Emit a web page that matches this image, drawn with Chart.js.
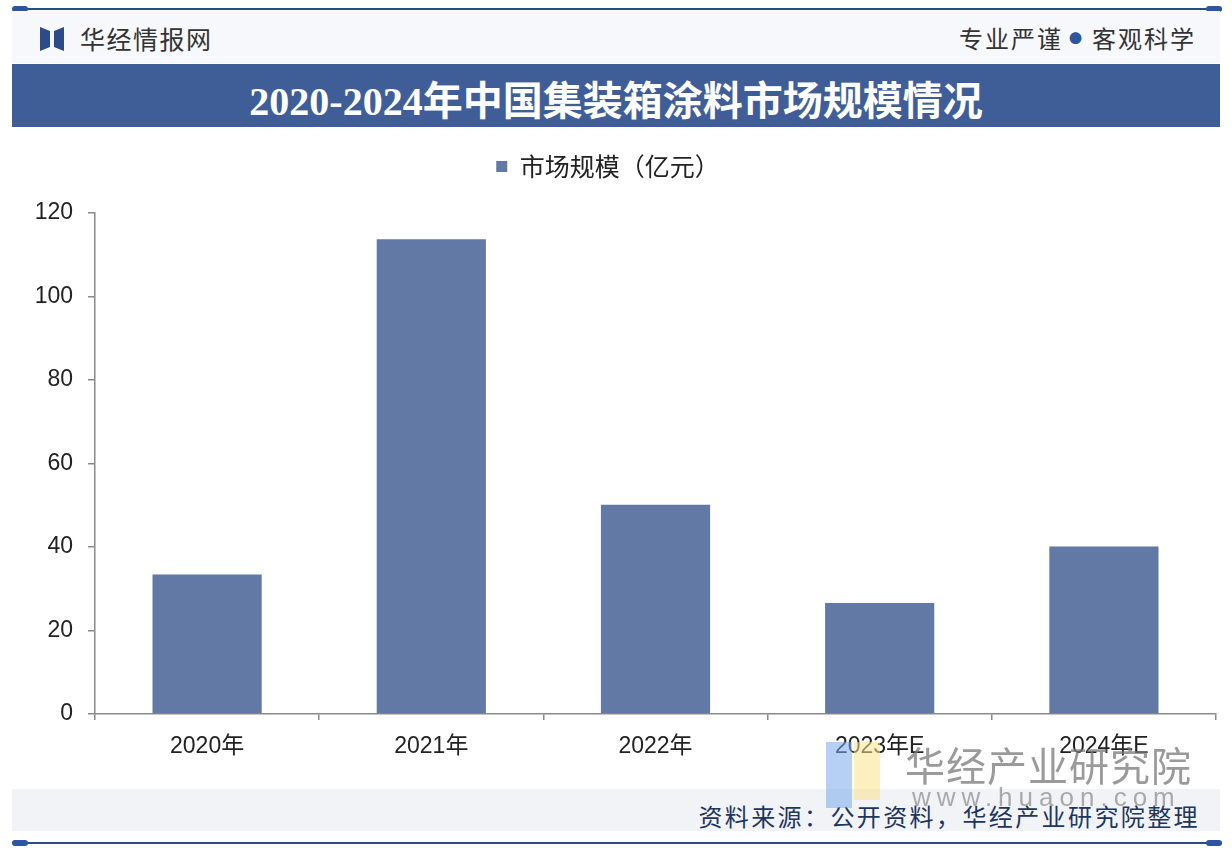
<!DOCTYPE html>
<html>
<head>
<meta charset="utf-8">
<script src="https://cdn.jsdelivr.net/npm/chart.js@4/dist/chart.umd.min.js"></script>
<style>
  html, body { margin:0; padding:0; background:#ffffff; }
  body { width:1232px; height:852px; position:relative; overflow:hidden; font-family:"Noto Sans CJK SC", sans-serif; }
  .hline { position:absolute; left:12px; width:1210px; height:2px; background:#2d4b7c; }
  .cap { position:absolute; width:16px; height:6px; border-radius:3px; background:#2d55a0; }
  #hdr { position:absolute; left:12px; top:11px; width:1208px; height:52px; background:#f7f8fb; }
  #brand { position:absolute; left:80px; top:20px; font-size:25px; color:#333; letter-spacing:1.5px; }
  #slogan { position:absolute; right:36px; top:20px; font-size:24px; color:#333; letter-spacing:2px; }
  #slogan .dot { color:#2d55a0; font-size:13px; vertical-align:5px; margin:0 8px 0 6px; }
  #titlebar { position:absolute; left:12px; top:64px; width:1208px; height:63px; background:#3f5e97; }
  #title { position:absolute; left:0; width:100%; top:5px; text-align:center; color:#fff; font-weight:bold; font-size:40px; font-family:"Liberation Serif","Noto Sans CJK SC",serif; }
  #footer { position:absolute; left:12px; top:789px; width:1208px; height:42px; background:#f1f3f7; }
  #source { position:absolute; right:32px; top:798px; font-size:24px; color:#1e3560; letter-spacing:2.4px; }
  #wrap { position:absolute; left:0; top:140px; width:1232px; height:640px; }
  .wm1 { position:absolute; left:905px; top:735px; font-size:40px; color:rgba(120,120,120,0.75); letter-spacing:1px; }
  .wm2 { position:absolute; left:912px; top:782px; font-size:26px; color:rgba(120,120,120,0.6); letter-spacing:6px; font-family:"Liberation Sans",sans-serif; }
  .wmb { position:absolute; left:826px; top:742px; width:26px; height:66px; background:rgba(120,170,235,0.55); }
  .wmy { position:absolute; left:854px; top:742px; width:26px; height:58px; background:rgba(250,225,140,0.55); }
</style>
</head>
<body>
<div class="hline" style="top:8px"></div>
<div class="cap" style="left:12px;top:6px"></div>
<div class="cap" style="left:1206px;top:6px"></div>
<div id="hdr"></div>
<svg style="position:absolute;left:38px;top:25px" width="30" height="28" viewBox="0 0 30 28">
  <polygon points="2,2 12,6 12,22 2,26" fill="#2d4b86"/>
  <polygon points="16,6 26,2 26,26 16,22" fill="#2d4b86"/>
</svg>
<div id="brand">华经情报网</div>
<div id="slogan">专业严谨<span class="dot">●</span>客观科学</div>
<div id="titlebar"><div id="title">2020-2024年中国集装箱涂料市场规模情况</div></div>
<div id="footer"></div>
<div id="source">资料来源：公开资料，华经产业研究院整理</div>
<div class="hline" style="top:842px"></div>
<div class="cap" style="left:12px;top:840px"></div>
<div class="cap" style="left:1206px;top:840px"></div>
<div id="wrap"><canvas id="c" width="1232" height="640"></canvas></div>
<div class="wmb"></div><div class="wmy"></div>
<div class="wm1">华经产业研究院</div>
<div class="wm2">www.huaon.com</div>
<script>
const categories = ["2020年", "2021年", "2022年", "2023年E", "2024年E"];
const seriesName = "市场规模（亿元）";
const marketSize = [33.4, 113.7, 50.1, 26.6, 40.1];
const yTicks = [0, 20, 40, 60, 80, 100, 120];

const axisColor = "#8a8a8a";
const legendGap = {
  id: "legendGap",
  afterInit(chart) {
    const lg = chart.legend;
    if (!lg) return;
    const orig = lg.fit;
    lg.fit = function () { orig.call(this); this.height += 24; };
  }
};
new Chart(document.getElementById("c"), {
  type: "bar",
  data: {
    labels: categories,
    datasets: [{
      label: seriesName,
      data: marketSize,
      backgroundColor: "#6379a5",
      borderWidth: 0,
      categoryPercentage: 1.0,
      barPercentage: 0.487
    }]
  },
  plugins: [legendGap],
  options: {
    responsive: false,
    animation: false,
    devicePixelRatio: 1,
    layout: { padding: { left: 0, right: 16, top: 0, bottom: 0 } },
    plugins: {
      tooltip: { enabled: false },
      legend: {
        position: "top",
        labels: {
          boxWidth: 11, boxHeight: 11, padding: 14,
          color: "#222",
          font: { size: 25, family: "'Noto Sans CJK SC', sans-serif" }
        }
      }
    },
    scales: {
      x: {
        afterFit: s => { s.height = 66; },
        grid: { display: true, drawOnChartArea: false, drawTicks: true, tickLength: 6, color: axisColor, lineWidth: 1.5, offset: true },
        border: { color: axisColor, width: 1.5 },
        ticks: { color: "#222", padding: 13, font: { size: 23, family: "'Liberation Sans Narrow', 'Liberation Sans', 'Noto Sans CJK SC', sans-serif" } }
      },
      y: {
        min: 0, max: 120,
        afterFit: s => { s.width = 95; },
        afterBuildTicks: s => { s.ticks = yTicks.map(v => ({ value: v })); },
        grid: { display: true, drawOnChartArea: false, drawTicks: true, tickLength: 7, color: axisColor, lineWidth: 1.5 },
        border: { color: axisColor, width: 1.5 },
        ticks: { color: "#222", padding: 15, font: { size: 23, family: "'Liberation Sans', sans-serif" } }
      }
    }
  }
});
</script>
</body>
</html>
